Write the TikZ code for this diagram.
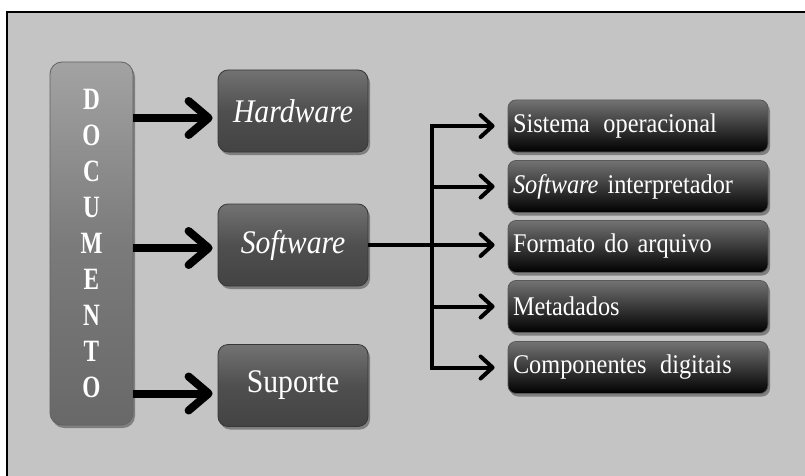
\documentclass[tikz,border=0pt]{standalone}
\usepackage{fontspec}
\setmainfont{Liberation Serif}[FakeStretch=0.9]
\newfontfamily\docfont{Liberation Serif}[FakeStretch=0.75]
\usetikzlibrary{arrows.meta,shadows}
\definecolor{bg}{HTML}{C4C4C4}
\definecolor{docgray}{HTML}{7B7B7B}
\definecolor{midgray}{HTML}{4F4F4F}
\tikzset{
  boxshadow/.style={drop shadow={shadow xshift=2pt,shadow yshift=-3pt,opacity=0.35,fill=black}},
  docbox/.style={rounded corners=12pt, draw=docgray!80!black, line width=0.8pt,
    top color=docgray!70!white, bottom color=docgray!85!black, middle color=docgray,
    minimum width=83pt, minimum height=363pt, text=white, align=center, inner sep=0pt,
    font={\docfont\bfseries\fontsize{31}{35.9}\selectfont}, boxshadow},
  midbox/.style={rounded corners=10pt, draw=midgray!70!black, line width=0.8pt,
    top color=midgray!80!white, bottom color=midgray!85!black, middle color=midgray,
    minimum width=150pt, minimum height=82pt, text=white, inner sep=0pt,
    font={\fontsize{33}{38}\selectfont}, boxshadow},
  rbox/.style={rounded corners=8pt, draw=black!65, line width=0.8pt,
    top color=black!55, middle color=black, bottom color=black,
    minimum width=260pt, minimum height=52pt, text width=250pt, inner xsep=5pt, inner ysep=0pt,
    align=left, text=white, font={\fontsize{27}{30}\selectfont}, boxshadow},
  bigarrow/.style={line width=8pt, -{Straight Barb[length=20pt,width=34pt,round]}, shorten >=5pt},
  smallarrow/.style={line width=4pt, -{Straight Barb[length=12pt,width=22pt,round]}, shorten >=13pt},
  branchline/.style={line width=4pt, line cap=rect}
}
\begin{document}
\begin{tikzpicture}[x=1pt,y=-1pt]
\useasboundingbox (0,0) rectangle (805,476);
\fill[bg] (7,12) rectangle (805,476);
\draw[line width=2.5pt] (7,476) -- (7,12) -- (805,12);

\node[docbox] (doc) at (91.5,243.5) {D\\O\\C\\U\\M\\E\\N\\T\\O};

\node[midbox] (hw) at (293,111) {\itshape Hardware};
\node[midbox] (sw) at (293,245) {\itshape Software};
\node[midbox] (sup) at (293,385.5) {Suporte};

\node[rbox] (r1) at (638,126) {Sistema\, operacional};
\node[rbox] (r2) at (638,186.5) {\textit{Software} interpretador};
\node[rbox] (r3) at (638,246.5) {Formato do arquivo};
\node[rbox] (r4) at (638,306.5) {Metadados};
\node[rbox] (r5) at (638,367.5) {Componentes\, digitais};

\coordinate (hwin) at ([yshift=-7pt]hw.west);
\coordinate (swin) at ([yshift=-3pt]sw.west);
\coordinate (supin) at ([yshift=-8pt]sup.west);
\draw[bigarrow] (doc.east |- hwin) -- (hwin);
\draw[bigarrow] (doc.east |- swin) -- (swin);
\draw[bigarrow] (doc.east |- supin) -- (supin);

\coordinate (bx) at (432,0);
\draw[branchline] (bx |- r1.west) -- (bx |- r5.west);
\draw[smallarrow] (sw.east) -- (sw.east -| r3.west);
\draw[smallarrow] (bx |- r1.west) -- (r1.west);
\draw[smallarrow] (bx |- r2.west) -- (r2.west);
\draw[smallarrow] (bx |- r4.west) -- (r4.west);
\draw[smallarrow] (bx |- r5.west) -- (r5.west);
\end{tikzpicture}
\end{document}
